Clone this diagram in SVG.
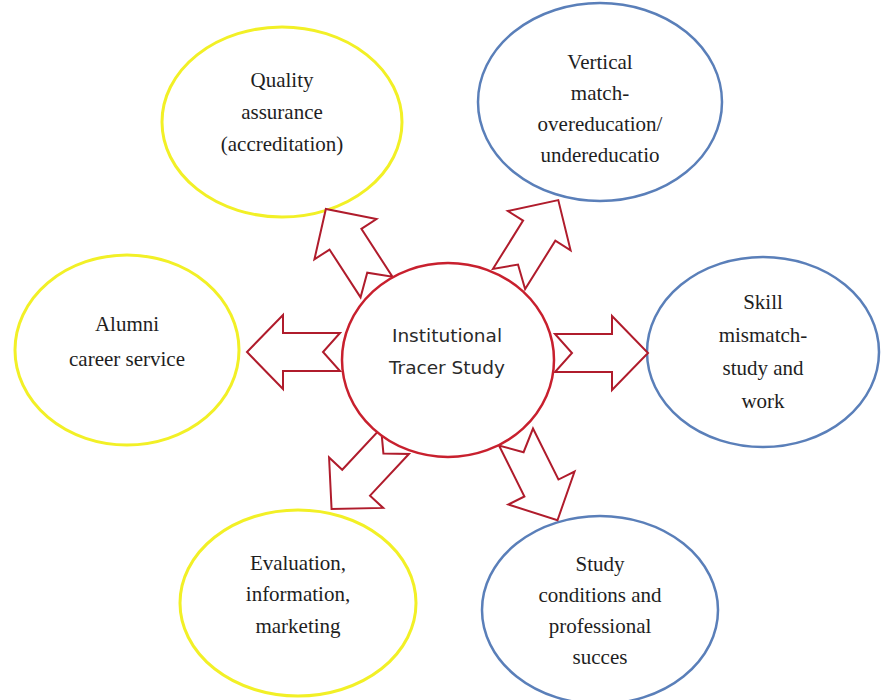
<svg xmlns="http://www.w3.org/2000/svg" width="881" height="700" viewBox="0 0 881 700">
<defs>
<style>
.y{fill:#fff;stroke:#f2f026;stroke-width:3}
.b{fill:#fff;stroke:#5a7fb9;stroke-width:2.5}
.c{fill:#fff;stroke:#c8202e;stroke-width:2.5}
.a{fill:#fff;stroke:#b01c2c;stroke-width:2;stroke-linejoin:miter}
.t{font-family:"Liberation Serif","Times New Roman",serif;font-size:21px;fill:#1e1e1e;text-anchor:middle}
.s{font-family:"DejaVu Sans",Verdana,sans-serif;font-size:18.5px;fill:#2a2a2a;text-anchor:middle}
</style>
<polygon id="arr" points="0,-19 57,-19 57,-37 93,0 57,37 57,19 0,19 17,0"/>
</defs>
<rect width="881" height="700" fill="#fff"/>
<g id="n-quality">
<ellipse class="y" cx="282" cy="122" rx="120" ry="95"/>
<text class="t" x="282" y="87">Quality</text>
<text class="t" x="282" y="119">assurance</text>
<text class="t" x="282" y="151">(accreditation)</text>
</g>
<g id="n-vertical">
<ellipse class="b" cx="600" cy="102" rx="122" ry="99"/>
<text class="t" x="600" y="69">Vertical</text>
<text class="t" x="600" y="100">match-</text>
<text class="t" x="600" y="131">overeducation/</text>
<text class="t" x="600" y="162">undereducatio</text>
</g>
<g id="n-alumni">
<ellipse class="y" cx="127" cy="350" rx="112" ry="95"/>
<text class="t" x="127" y="331">Alumni</text>
<text class="t" x="127" y="366">career service</text>
</g>
<g id="n-skill">
<ellipse class="b" cx="763" cy="352" rx="116" ry="95"/>
<text class="t" x="763" y="309">Skill</text>
<text class="t" x="763" y="342">mismatch-</text>
<text class="t" x="763" y="375">study and</text>
<text class="t" x="763" y="408">work</text>
</g>
<g id="n-evaluation">
<ellipse class="y" cx="298" cy="603" rx="118" ry="93"/>
<text class="t" x="298" y="570">Evaluation,</text>
<text class="t" x="298" y="601">information,</text>
<text class="t" x="298" y="633">marketing</text>
</g>
<g id="n-study">
<ellipse class="b" cx="600" cy="610" rx="118" ry="94"/>
<text class="t" x="600" y="571">Study</text>
<text class="t" x="600" y="602">conditions and</text>
<text class="t" x="600" y="633">professional</text>
<text class="t" x="600" y="664">succes</text>
</g>
<g id="connectors">
<use href="#arr" class="a" transform="translate(340,352) rotate(180)"/>
<use href="#arr" class="a" transform="translate(555,353)"/>
<use href="#arr" class="a" transform="translate(376.5,287) rotate(-123)"/>
<use href="#arr" class="a" transform="translate(509,279) rotate(-58)"/>
<use href="#arr" class="a" transform="translate(395,441) rotate(133)"/>
<use href="#arr" class="a" transform="translate(516,437) rotate(63.5)"/>
</g>
<g id="n-center">
<ellipse class="c" cx="448" cy="360" rx="106" ry="97"/>
<text class="s" x="447" y="342">Institutional</text>
<text class="s" x="447" y="374">Tracer Study</text>
</g>
</svg>
